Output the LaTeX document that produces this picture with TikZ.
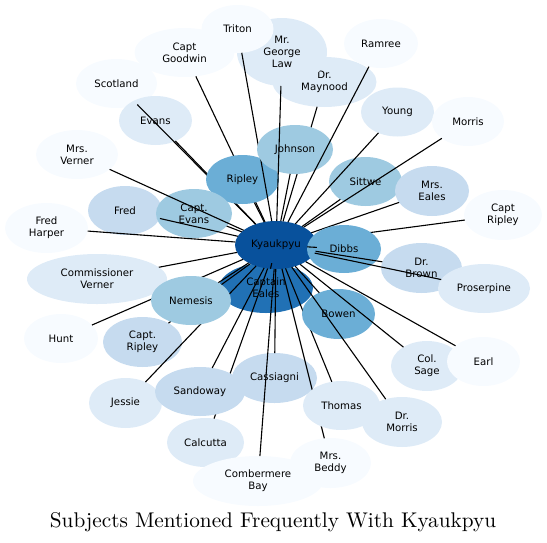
\documentclass[tikz,border=0pt]{standalone}
\usepackage{fontspec}
\newfontfamily\dvsans{DejaVu Sans}
\usetikzlibrary{shapes.geometric}
\definecolor{cA}{HTML}{08519C}
\definecolor{cB}{HTML}{2171B5}
\definecolor{cC}{HTML}{6BAED6}
\definecolor{cD}{HTML}{9ECAE1}
\definecolor{cE}{HTML}{C6DBEF}
\definecolor{cF}{HTML}{DEEBF7}
\definecolor{cG}{HTML}{F7FBFF}
\tikzset{
  vtx/.style n args={3}{ellipse, inner sep=0pt, outer sep=0pt, draw=none, fill=#3,
    minimum width=#1pt, minimum height=#2pt, align=center,
    font=\fontsize{10.2}{11.8}\selectfont\dvsans, text=black},
  link/.style={draw=black, line width=1.1pt},
}
\begin{document}
\begin{tikzpicture}[x=1pt,y=-1pt]
\useasboundingbox (0,0) rectangle (547,542);
\node[vtx={94}{50}{cB}] (E) at (266,288) {Captain\\Eales};
\node[vtx={82}{48}{cA}] (K) at (276,245) {Kyaukpyu};
\node[vtx={100}{49}{cG}] (Goodwin) at (184.5,52.5) {Capt\\Goodwin};
\draw[link] (K) -- (Goodwin);
\node[vtx={81}{49}{cG}] (Scotland) at (116.5,83.5) {Scotland};
\node[vtx={73}{49}{cF}] (Evans) at (155.5,120.5) {Evans};
\draw[link] (K) -- (Scotland);
\draw[link] (K) -- (Evans);
\node[vtx={73}{49}{cC}] (Ripley) at (242.5,179.5) {Ripley};
\draw[link] (K) -- (Ripley);
\node[vtx={104}{50}{cF}] (Maynood) at (324.5,82) {Dr.\\Maynood};
\draw[link] (K) -- (Maynood);
\node[vtx={90}{68}{cF}] (GeorgeLaw) at (282,52) {Mr.\\George\\Law};
\node[vtx={72}{48}{cG}] (Triton) at (237.5,29) {Triton};
\draw[link] (K) -- (Triton);
\node[vtx={76}{49}{cD}] (Johnson) at (295,149.5) {Johnson};
\draw[link] (K) -- (Johnson);
\draw[link] (K) -- (GeorgeLaw);
\node[vtx={74}{49}{cG}] (Ramree) at (381,43.5) {Ramree};
\draw[link] (K) -- (Ramree);
\node[vtx={73}{49}{cD}] (Sittwe) at (365.5,181.5) {Sittwe};
\draw[link] (K) -- (Sittwe);
\node[vtx={73}{49}{cF}] (Young) at (397.5,112) {Young};
\draw[link] (K) -- (Young);
\node[vtx={74}{50}{cE}] (MrsEales) at (432,191) {Mrs.\\Eales};
\draw[link] (K) -- (MrsEales);
\node[vtx={72}{49}{cG}] (Morris) at (468,121.5) {Morris};
\draw[link] (K) -- (Morris);
\node[vtx={78}{50}{cG}] (CaptRipleyR) at (503,215) {Capt\\Ripley};
\draw[link] (K) -- (CaptRipleyR);
\node[vtx={74}{48}{cC}] (Dibbs) at (344,249) {Dibbs};
\draw[link] (K) -- (Dibbs);
\node[vtx={81}{50}{cE}] (DrBrown) at (421.5,268) {Dr.\\Brown};
\node[vtx={92}{49}{cF}] (Proserpine) at (484,288.5) {Proserpine};
\draw[link] (K) -- (DrBrown);
\draw[link] (K) -- (Proserpine);
\node[vtx={82}{49}{cG}] (MrsVerner) at (77,154.5) {Mrs.\\Verner};
\node[vtx={74}{49}{cE}] (Fred) at (125,210.5) {Fred};
\node[vtx={76}{49}{cD}] (CaptEvans) at (194,213.5) {Capt.\\Evans};
\draw[link] (K) -- (CaptEvans);
\draw[link] (K) -- (Fred);
\draw[link] (K) -- (MrsVerner);
\node[vtx={83}{50}{cG}] (FredHarper) at (46.5,228) {Fred\\Harper};
\draw[link] (K) -- (FredHarper);
\node[vtx={140}{50}{cF}] (CommVerner) at (97,279) {Commissioner\\Verner};
\draw[link] (K) -- (CommVerner);
\node[vtx={74}{49}{cG}] (Hunt) at (61,338.5) {Hunt};
\node[vtx={79}{50}{cE}] (CaptRipleyL) at (142.5,342) {Capt.\\Ripley};
\node[vtx={73}{50}{cF}] (Jessie) at (125.5,403) {Jessie};
\draw[link] (K) -- (Hunt);
\draw[link] (K) -- (CaptRipleyL);
\draw[link] (K) -- (Jessie);
\node[vtx={80}{49}{cD}] (Nemesis) at (191,300.5) {Nemesis};
\draw[link] (K) -- (Nemesis);
\node[vtx={77}{49}{cF}] (Calcutta) at (205.5,442.5) {Calcutta};
\draw[link] (K) -- (Calcutta);
\node[vtx={90}{49}{cE}] (Sandoway) at (200,391.5) {Sandoway};
\draw[link] (K) -- (Sandoway);
\node[vtx={85}{50}{cE}] (Cassiagni) at (274.5,378) {Cassiagni};
\draw[link] (K) -- (Cassiagni);
\node[vtx={130}{50}{cG}] (Combermere) at (258,481) {Combermere\\Bay};
\draw[link] (K) -- (Combermere);
\node[vtx={81}{50}{cG}] (MrsBeddy) at (330.5,463) {Mrs.\\Beddy};
\draw[link] (K) -- (MrsBeddy);
\node[vtx={77}{49}{cF}] (Thomas) at (341.5,405.5) {Thomas};
\draw[link] (K) -- (Thomas);
\node[vtx={73}{50}{cC}] (Bowen) at (338.5,314) {Bowen};
\draw[link] (K) -- (Bowen);
\node[vtx={80}{50}{cF}] (DrMorris) at (402,422) {Dr.\\Morris};
\draw[link] (K) -- (DrMorris);
\node[vtx={72}{50}{cF}] (ColSage) at (427,366) {Col.\\Sage};
\draw[link] (K) -- (ColSage);
\node[vtx={73}{49}{cG}] (Earl) at (483.5,361.5) {Earl};
\draw[link] (K) -- (Earl);
\draw[link] (K) -- (E);
\node[font=\fontsize{10}{12}\selectfont, scale=2.125, anchor=base, inner sep=0pt] (title) at (273,527) {Subjects Mentioned Frequently With Kyaukpyu};
\end{tikzpicture}
\end{document}
